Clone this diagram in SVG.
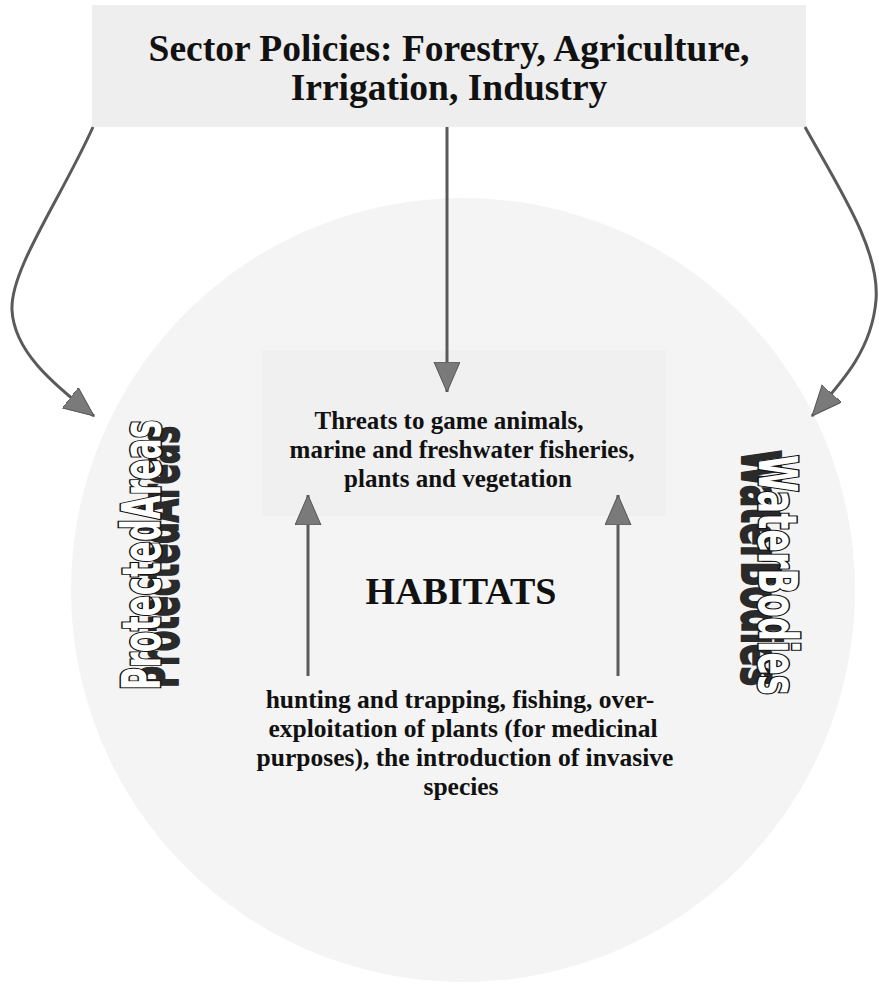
<svg xmlns="http://www.w3.org/2000/svg" width="879" height="984" viewBox="0 0 879 984">
<style>
.t{font-family:"Liberation Serif","Times New Roman",serif;font-weight:bold;fill:#111;text-anchor:middle}
.conn{fill:none;stroke:#5a5a5a;stroke-width:3}
.wa{font-family:"DejaVu Sans Condensed","Liberation Sans",sans-serif;font-weight:bold;font-size:54px}
.wa-main{fill:#fff;stroke:#111;stroke-width:3;paint-order:stroke}
.wa-sh{fill:#2a2a2a;stroke:#2a2a2a;stroke-width:2}
</style>
<defs>
<marker id="ah" markerUnits="userSpaceOnUse" markerWidth="32" markerHeight="28" refX="30" refY="13" orient="auto">
<path d="M0,0 L30,13 L0,26 z" fill="#7a7a7a" stroke="#555" stroke-width="1"/>
</marker>
</defs>
<rect width="879" height="984" fill="#fff"/>
<g id="habitats">
<circle cx="463" cy="590" r="392" fill="#f4f4f4"/>
<text class="t" x="461" y="604" font-size="38">HABITATS</text>
</g>
<g id="sector">
<rect x="92" y="5" width="714" height="122" fill="#eeeeee"/>
<text class="t" x="449" y="61" font-size="37.5">Sector Policies: Forestry, Agriculture,</text>
<text class="t" x="449" y="100" font-size="37.5">Irrigation, Industry</text>
</g>
<g id="threats">
<rect x="262" y="350" width="404" height="166" fill="#f0f0f0"/>
<text class="t" x="449" y="429" font-size="25">Threats to game animals,</text>
<text class="t" x="462" y="458" font-size="25">marine and freshwater fisheries,</text>
<text class="t" x="458" y="487" font-size="25">plants and vegetation</text>
</g>
<g id="pressures">
<text class="t" x="460" y="708" font-size="25.5">hunting and trapping, fishing, over-</text>
<text class="t" x="463" y="737" font-size="25.5">exploitation of plants (for medicinal</text>
<text class="t" x="465" y="766" font-size="25.5">purposes), the introduction of invasive</text>
<text class="t" x="461" y="795" font-size="25.5">species</text>
</g>
<g id="protected-areas">
<text class="wa wa-sh" transform="translate(178,688) rotate(-90)" x="0" y="0" textLength="262" lengthAdjust="spacingAndGlyphs">ProtectedAreas</text>
<text class="wa wa-main" transform="translate(160,690) rotate(-90)" x="0" y="0" textLength="270" lengthAdjust="spacingAndGlyphs">ProtectedAreas</text>
</g>
<g id="water-bodies">
<text class="wa wa-sh" transform="translate(742,450) rotate(90)" x="0" y="0" textLength="236" lengthAdjust="spacingAndGlyphs">WaterBodies</text>
<text class="wa wa-main" transform="translate(759,455) rotate(90)" x="0" y="0" textLength="240" lengthAdjust="spacingAndGlyphs">WaterBodies</text>
</g>
<g id="connectors">
<path class="conn" d="M93,127 C60,200 10,270 12,310 S50,382 94,416" marker-end="url(#ah)"/>
<path class="conn" d="M447,127 L447,392" marker-end="url(#ah)"/>
<path class="conn" d="M805,127 C840,190 880,250 876,300 S842,382 812,416" marker-end="url(#ah)"/>
<path class="conn" d="M308,676 L308,495" marker-end="url(#ah)"/>
<path class="conn" d="M618,676 L618,495" marker-end="url(#ah)"/>
</g>
</svg>
